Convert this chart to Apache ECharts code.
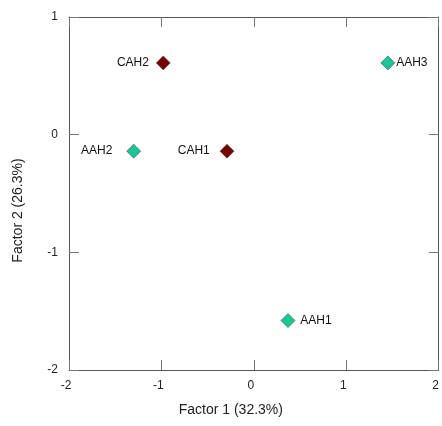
<!DOCTYPE html>
<html><head><meta charset="utf-8">
<script src="https://cdn.jsdelivr.net/npm/echarts@6/dist/echarts.min.js"></script>
<style>html,body{margin:0;padding:0;background:#fff}#c{width:442px;height:426px}</style>
</head><body><div id="c"></div>
<script>
const names = ['CAH2','AAH3','AAH2','CAH1','AAH1'];
const factor1 = [-0.98, 1.45, -1.30, -0.29, 0.37];
const factor2 = [0.61, 0.61, -0.14, -0.14, -1.58];
const groups = ['CAH','AAH','AAH','CAH','AAH'];
const labelSide = ['left','right','left','left','right'];
const labelGap = [7, 1, 14, 10, 5];
const xTicks = [-2, -1, 0, 1, 2];
const yTicks = [-2, -1, 0, 1];
const colors = {AAH: '#1cc596', CAH: '#760000'};

const chart = echarts.init(document.getElementById('c'), null, {renderer: 'canvas'});
const font = 'Liberation Sans, Arial, sans-serif';
const lineCol = '#555';
const tickCol = '#777';
function axisCommon() {
  return {
    axisLine: {show: true, onZero: false, lineStyle: {color: lineCol, width: 1}},
    axisTick: {show: true, inside: true, length: 10, lineStyle: {color: tickCol}},
    splitLine: {show: false},
  };
}
const pts = names.map((n, i) => ({
  name: n,
  value: [factor1[i], factor2[i]],
  itemStyle: {color: colors[groups[i]], opacity: 1, borderColor: '#4a4a4a', borderWidth: 0.6},
  label: {show: true, position: labelSide[i], distance: labelGap[i], formatter: n,
    fontFamily: font, fontSize: 12, color: '#111'}
}));
chart.setOption({
  animation: false,
  grid: {left: 69, right: 2, top: 17, bottom: 56, containLabel: false},
  xAxis: [
    Object.assign({type: 'value', position: 'bottom', min: xTicks[0], max: xTicks[xTicks.length-1], interval: 1,
      name: 'Factor 1 (32.3%)', nameLocation: 'middle', nameGap: 33,
      nameTextStyle: {fontFamily: font, fontSize: 14, color: '#222', padding: [0, 46, 0, 0]},
      axisLabel: {margin: 10, fontFamily: font, fontSize: 12, color: '#222', padding: [0, 6, 0, 0]}}, axisCommon()),
    Object.assign({type: 'value', position: 'top', min: xTicks[0], max: xTicks[xTicks.length-1], interval: 1,
      axisLabel: {show: false}}, axisCommon())
  ],
  yAxis: [
    Object.assign({type: 'value', position: 'left', min: yTicks[0], max: yTicks[yTicks.length-1], interval: 1,
      name: 'Factor 2 (26.3%)', nameLocation: 'middle', nameGap: 44, nameRotate: 90,
      nameTextStyle: {fontFamily: font, fontSize: 14, color: '#222', padding: [0, 34, 0, 0]},
      axisLabel: {margin: 11, fontFamily: font, fontSize: 12, color: '#222', padding: [0, 0, 10, 0]}}, axisCommon()),
    Object.assign({type: 'value', position: 'right', min: yTicks[0], max: yTicks[yTicks.length-1], interval: 1,
      axisLabel: {show: false}}, axisCommon())
  ],
  series: [{
    type: 'scatter', symbol: 'diamond', symbolSize: 14, xAxisIndex: 0, yAxisIndex: 0,
    data: pts
  }]
});
</script></body></html>
